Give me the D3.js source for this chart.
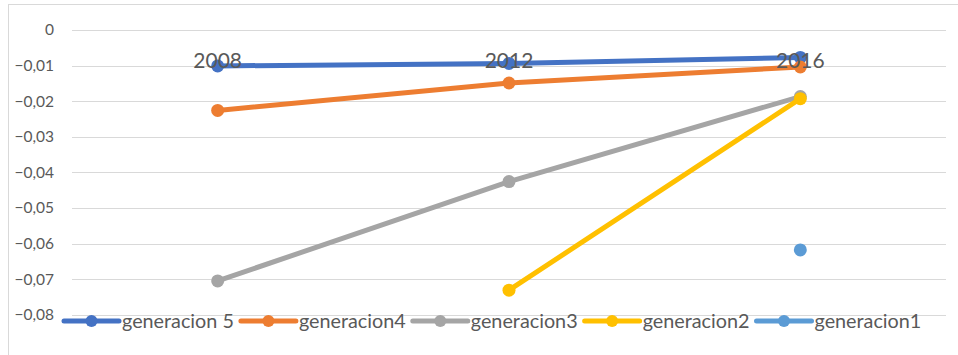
<!DOCTYPE html>
<html>
<head>
<meta charset="utf-8">
<script src="https://cdn.jsdelivr.net/npm/d3@7"></script>
<style>
  body { margin: 0; background: #fff; }
  svg { display: block; font-family: Lato, "Open Sans", sans-serif; }
</style>
</head>
<body>
<div id="chart"></div>
<script>
// Data
const years = ["2008", "2012", "2016"];
const seriesNames = ["generacion 5", "generacion4", "generacion3", "generacion2", "generacion1"];
const gen5 = [-0.0101, -0.0094, -0.0077];
const gen4 = [-0.0226, -0.0149, -0.0104];
const gen3 = [-0.0705, -0.0426, -0.0187];
const gen2 = [null, -0.0731, -0.0193];
const gen1 = [null, null, -0.0618];
const yTicks = [0, -0.01, -0.02, -0.03, -0.04, -0.05, -0.06, -0.07, -0.08];
const colors = ["#4472C4", "#ED7D31", "#A5A5A5", "#FFC000", "#5B9BD5"];

const allSeries = [gen5, gen4, gen3, gen2, gen1].map((vals, i) => ({
  name: seriesNames[i],
  color: colors[i],
  values: vals.map((v, j) => ({ year: years[j], value: v }))
}));

const width = 958, height = 355;
const margin = { top: 30, right: 12, bottom: 40, left: 72 };
const plotW = width - margin.left - margin.right;
const plotH = 314.7 - margin.top;

const svg = d3.select("#chart").append("svg")
  .attr("width", width)
  .attr("height", height);

// chart frame (runs off the right and bottom edge)
svg.append("rect")
  .attr("x", 8.5).attr("y", 4.5)
  .attr("width", 1000).attr("height", 400)
  .attr("fill", "none")
  .attr("stroke", "#d9d9d9");

const g = svg.append("g")
  .attr("transform", `translate(${margin.left},${margin.top})`);

const x = d3.scaleBand().domain(years).range([0, plotW]);
const y = d3.scaleLinear().domain([0, -0.08]).range([0, plotH]);

// gridlines
g.append("g")
  .selectAll("line")
  .data(yTicks)
  .join("line")
  .attr("x1", 0).attr("x2", plotW)
  .attr("y1", d => Math.round(y(d)) + 0.5)
  .attr("y2", d => Math.round(y(d)) + 0.5)
  .attr("stroke", "#d9d9d9")
  .attr("stroke-width", 1);

// y axis labels
const fmt = d => d === 0 ? "0" : d3.format(".2f")(d).replace(".", ",");
g.append("g")
  .selectAll("text")
  .data(yTicks)
  .join("text")
  .attr("x", -18)
  .attr("y", d => y(d))
  .attr("dy", "0.35em")
  .attr("text-anchor", "end")
  .attr("font-size", 15.5)
  .attr("fill", "#595959")
  .text(fmt);

// series
const line = d3.line()
  .defined(d => d.value !== null)
  .x(d => x(d.year) + x.bandwidth() / 2)
  .y(d => y(d.value));

allSeries.forEach(s => {
  const sg = g.append("g");
  sg.append("path")
    .datum(s.values)
    .attr("d", line)
    .attr("fill", "none")
    .attr("stroke", s.color)
    .attr("stroke-width", 5)
    .attr("stroke-linecap", "round");
  sg.selectAll("circle")
    .data(s.values.filter(d => d.value !== null))
    .join("circle")
    .attr("cx", d => x(d.year) + x.bandwidth() / 2)
    .attr("cy", d => y(d.value))
    .attr("r", 6.5)
    .attr("fill", s.color);
});

// category labels sit under the zero line
g.append("g")
  .selectAll("text")
  .data(years)
  .join("text")
  .attr("x", d => x(d) + x.bandwidth() / 2)
  .attr("y", 38)
  .attr("text-anchor", "middle")
  .attr("font-size", 21)
  .attr("fill", "#595959")
  .text(d => d);

// legend
const legend = svg.append("g").attr("transform", "translate(64,321)");
let lx = 0;
allSeries.forEach(s => {
  const item = legend.append("g").attr("transform", `translate(${lx},0)`);
  item.append("line")
    .attr("x1", 0).attr("x2", 55)
    .attr("stroke", s.color)
    .attr("stroke-width", 5)
    .attr("stroke-linecap", "round");
  item.append("circle")
    .attr("cx", 27.5).attr("r", 6)
    .attr("fill", s.color);
  const t = item.append("text")
    .attr("x", 58)
    .attr("dy", "0.35em")
    .attr("font-size", 19.8)
    .attr("fill", "#595959")
    .text(s.name);
  lx += 58 + t.node().getComputedTextLength() + 7;
});
</script>
</body>
</html>
